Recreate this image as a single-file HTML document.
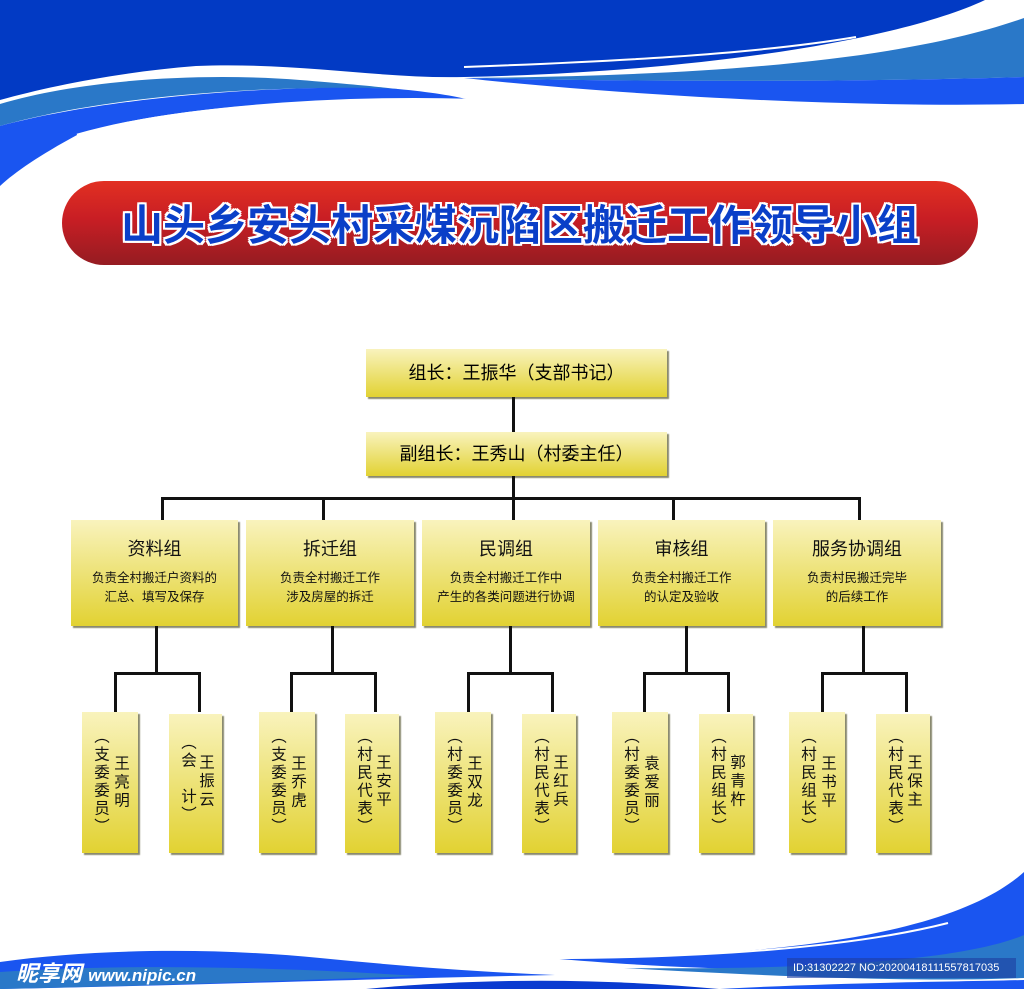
<!DOCTYPE html>
<html><head><meta charset="utf-8">
<style>
body{margin:0;width:1024px;height:989px;overflow:hidden;background:#fff;position:relative;font-family:"Liberation Sans","Noto Sans CJK SC",sans-serif;}
.abs{position:absolute;}
.y{position:absolute;background:linear-gradient(#f9f3bd,#eee47e 45%,#e2d232);box-shadow:2px 2px 1px #8a8a70;box-sizing:border-box;}
.l{position:absolute;background:#111;}
.g{text-align:center;color:#111;}
.g .t{font-size:18px;margin-top:18px;line-height:22px;}
.g .d{font-size:12.5px;line-height:19px;margin-top:9px;}
.v{position:absolute;writing-mode:vertical-rl;font-size:15.5px;line-height:16px;letter-spacing:3px;color:#111;}
.v.p{letter-spacing:2.5px;}
</style></head><body>
<svg class="abs" style="left:0;top:0" width="1024" height="989" viewBox="0 0 1024 989">
<!-- top -->
<path d="M0 0 H985 C900 40 700 72 464 77 C380 79 300 62 196 66 C120 72 50 86 0 100 Z" fill="#023ac4"/>
<path d="M464 67 C600 62 750 55 856 37" stroke="#fff" stroke-width="2" fill="none"/>
<path d="M1024 18 C900 62 700 76 464 78 C650 82 850 82 1024 77 Z" fill="#2a78c8"/>
<path d="M1024 77 C850 82 650 82 464 78 C620 95 850 108 1024 104 Z" fill="#1a55f0"/>
<path d="M0 104 C80 80 200 72 300 80 C350 84 380 87 398 89 C250 84 100 98 0 126 Z" fill="#2a78c8"/>
<path d="M0 126 C120 94 300 84 398 89 C430 92 455 96 470 100 C300 96 150 110 77 135 C40 155 15 172 0 186 Z" fill="#1a55f0"/>
<path d="M77 135 C170 108 330 96 470 100" stroke="#fff" stroke-width="2.5" fill="none"/>
<!-- bottom -->
<path d="M1024 872 C960 930 800 958 549 958 C700 972 900 975 1024 960 Z" fill="#1a55f0"/>
<path d="M1024 935 C960 962 800 970 624 968 C800 978 930 982 1024 978 Z" fill="#2a78c8"/>
<path d="M549 958 C700 958 850 948 948 923" stroke="#fff" stroke-width="2" fill="none"/>
<path d="M0 962 C100 948 220 948 320 958 C400 966 480 972 555 975 C400 978 200 985 0 989 Z" fill="#1a55f0"/>
<path d="M0 972 C120 964 260 966 420 976 C300 980 150 986 0 989 Z" fill="#2a78c8"/>
<path d="M366 989 C480 978 600 978 719 989 Z" fill="#0a3bd0"/>
<path d="M720 989 C850 982 950 982 1024 980 L1024 989 Z" fill="#1a55f0"/>
</svg>
<div class="abs" style="left:16px;top:956px;font-size:22px;font-weight:bold;font-style:italic;color:#fff;">昵享网 <span style="font-size:17px">www.nipic.cn</span></div>
<div class="abs" style="left:787px;top:958px;width:229px;height:20px;background:rgba(30,60,160,0.6);color:#fff;font-size:11px;line-height:20px;padding-left:6px;box-sizing:border-box;">ID:31302227 NO:20200418111557817035</div>

<div class="abs" style="left:62px;top:181px;width:916px;height:84px;border-radius:42px;background:linear-gradient(#e23022,#c81e24 45%,#951c22);"></div>
<div class="abs" style="left:62px;top:181px;width:916px;height:84px;line-height:84px;text-align:center;font-size:42px;font-weight:bold;color:#0a3fc8;letter-spacing:0px;font-family:'Noto Sans CJK SC',sans-serif;text-shadow:2px 0 #fff,-2px 0 #fff,0 2px #fff,0 -2px #fff,2px 2px #fff,-2px -2px #fff,2px -2px #fff,-2px 2px #fff;">山头乡安头村采煤沉陷区搬迁工作领导小组</div>

<div class="y" style="left:366px;top:349px;width:301px;height:48px;text-align:center;line-height:48px;font-size:18px;">组长：王振华（支部书记）</div>
<div class="y" style="left:366px;top:432px;width:301px;height:44px;text-align:center;line-height:44px;font-size:18px;">副组长：王秀山（村委主任）</div>
<div class="l" style="left:512px;top:397px;width:3px;height:35px"></div>
<div class="l" style="left:512px;top:476px;width:3px;height:44px"></div>
<div class="l" style="left:161px;top:497px;width:700px;height:3px"></div>
<div class="l" style="left:161px;top:497px;width:3px;height:23px"></div>
<div class="l" style="left:322px;top:497px;width:3px;height:23px"></div>
<div class="l" style="left:672px;top:497px;width:3px;height:23px"></div>
<div class="l" style="left:858px;top:497px;width:3px;height:23px"></div>

<div class="y g" style="left:71px;top:520px;width:167px;height:106px"><div class="t">资料组</div><div class="d">负责全村搬迁户资料的<br>汇总、填写及保存</div></div>
<div class="y g" style="left:246px;top:520px;width:168px;height:106px"><div class="t">拆迁组</div><div class="d">负责全村搬迁工作<br>涉及房屋的拆迁</div></div>
<div class="y g" style="left:422px;top:520px;width:168px;height:106px"><div class="t">民调组</div><div class="d">负责全村搬迁工作中<br>产生的各类问题进行协调</div></div>
<div class="y g" style="left:598px;top:520px;width:167px;height:106px"><div class="t">审核组</div><div class="d">负责全村搬迁工作<br>的认定及验收</div></div>
<div class="y g" style="left:773px;top:520px;width:168px;height:106px"><div class="t">服务协调组</div><div class="d">负责村民搬迁完毕<br>的后续工作</div></div>

<div class="l" style="left:155px;top:626px;width:3px;height:48px"></div><div class="l" style="left:114px;top:672px;width:87px;height:3px"></div><div class="l" style="left:114px;top:672px;width:3px;height:40px"></div><div class="l" style="left:198px;top:672px;width:3px;height:40px"></div>
<div class="l" style="left:331px;top:626px;width:3px;height:48px"></div><div class="l" style="left:290px;top:672px;width:87px;height:3px"></div><div class="l" style="left:290px;top:672px;width:3px;height:40px"></div><div class="l" style="left:374px;top:672px;width:3px;height:40px"></div>
<div class="l" style="left:509px;top:626px;width:3px;height:48px"></div><div class="l" style="left:467px;top:672px;width:87px;height:3px"></div><div class="l" style="left:467px;top:672px;width:3px;height:40px"></div><div class="l" style="left:551px;top:672px;width:3px;height:40px"></div>
<div class="l" style="left:685px;top:626px;width:3px;height:48px"></div><div class="l" style="left:643px;top:672px;width:87px;height:3px"></div><div class="l" style="left:643px;top:672px;width:3px;height:40px"></div><div class="l" style="left:727px;top:672px;width:3px;height:40px"></div>
<div class="l" style="left:862px;top:626px;width:3px;height:48px"></div><div class="l" style="left:821px;top:672px;width:87px;height:3px"></div><div class="l" style="left:821px;top:672px;width:3px;height:40px"></div><div class="l" style="left:905px;top:672px;width:3px;height:40px"></div>

<div class="y" style="left:82px;top:712px;width:56px;height:141px"><div class="v p" style="left:10px;top:16px">（支委委员）</div><div class="v" style="left:30px;top:43px">王亮明</div></div>
<div class="y" style="left:169px;top:714px;width:53px;height:139px"><div class="v p" style="left:10px;top:20px">（会　计）</div><div class="v" style="left:28px;top:40px">王振云</div></div>
<div class="y" style="left:259px;top:712px;width:56px;height:141px"><div class="v p" style="left:10px;top:16px">（支委委员）</div><div class="v" style="left:30px;top:43px">王乔虎</div></div>
<div class="y" style="left:345px;top:714px;width:54px;height:139px"><div class="v p" style="left:10px;top:14px">（村民代表）</div><div class="v" style="left:29px;top:40px">王安平</div></div>
<div class="y" style="left:435px;top:712px;width:56px;height:141px"><div class="v p" style="left:10px;top:16px">（村委委员）</div><div class="v" style="left:30px;top:43px">王双龙</div></div>
<div class="y" style="left:522px;top:714px;width:54px;height:139px"><div class="v p" style="left:10px;top:14px">（村民代表）</div><div class="v" style="left:29px;top:40px">王红兵</div></div>
<div class="y" style="left:612px;top:712px;width:56px;height:141px"><div class="v p" style="left:10px;top:16px">（村委委员）</div><div class="v" style="left:30px;top:43px">袁爱丽</div></div>
<div class="y" style="left:699px;top:714px;width:54px;height:139px"><div class="v p" style="left:10px;top:14px">（村民组长）</div><div class="v" style="left:29px;top:40px">郭青杵</div></div>
<div class="y" style="left:789px;top:712px;width:56px;height:141px"><div class="v p" style="left:10px;top:16px">（村民组长）</div><div class="v" style="left:30px;top:43px">王书平</div></div>
<div class="y" style="left:876px;top:714px;width:54px;height:139px"><div class="v p" style="left:10px;top:14px">（村民代表）</div><div class="v" style="left:29px;top:40px">王保主</div></div>
</body></html>
